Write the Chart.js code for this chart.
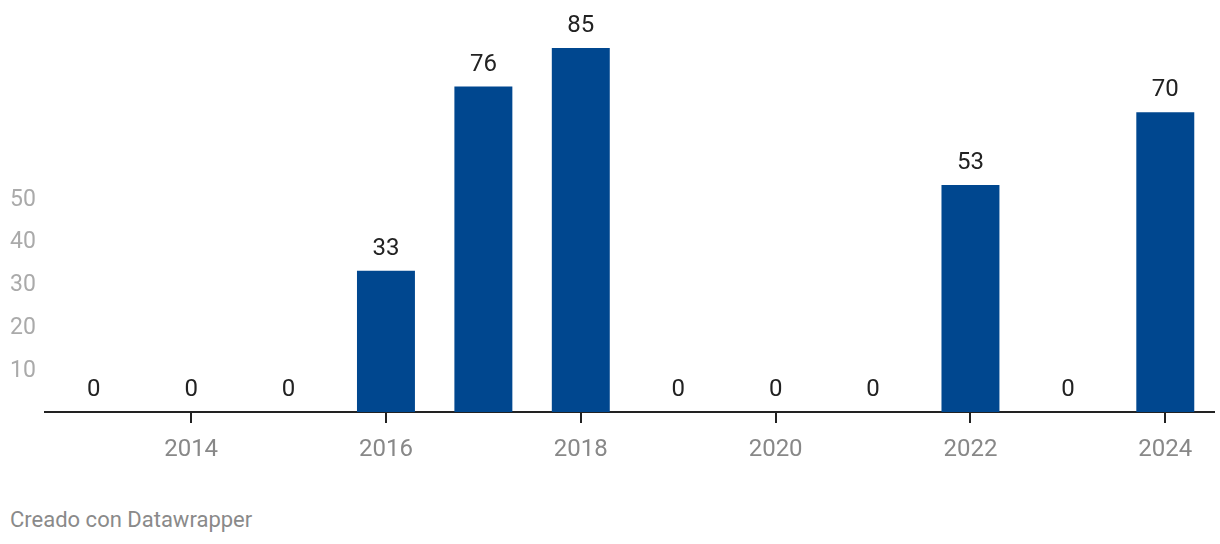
<!DOCTYPE html>
<html>
<head>
<meta charset="utf-8">
<script src="https://cdn.jsdelivr.net/npm/chart.js@4"></script>
<style>
  body { margin: 0; background: #fff; font-family: Roboto, sans-serif; }
  #wrap { position: relative; width: 1220px; height: 471px; }
  #credit { position: absolute; left: 10px; top: 507px; font-size: 22px; color: #8a8a8a; }
</style>
</head>
<body>
<div id="wrap"><canvas id="chart"></canvas></div>
<div id="credit">Creado con Datawrapper</div>
<script>
const years = ["2013", "2014", "2015", "2016", "2017", "2018", "2019", "2020", "2021", "2022", "2023", "2024"];
const counts = [0, 0, 0, 33, 76, 85, 0, 0, 0, 53, 0, 70];
const yTicks = [10, 20, 30, 40, 50];

// etiquetas de valor encima de cada barra
const valueLabels = {
  id: "valueLabels",
  afterDatasetsDraw(chart) {
    const ctx = chart.ctx;
    const meta = chart.getDatasetMeta(0);
    ctx.save();
    ctx.font = "24px Roboto";
    ctx.fillStyle = "#222";
    ctx.textAlign = "center";
    ctx.textBaseline = "alphabetic";
    meta.data.forEach((bar, i) => {
      ctx.fillText(String(counts[i]), bar.x, bar.y - 16);
    });
    ctx.restore();
  }
};

new Chart(document.getElementById("chart").getContext("2d"), {
  type: "bar",
  data: {
    labels: years,
    datasets: [{
      data: counts,
      backgroundColor: "#00478f",
      barPercentage: 1,
      categoryPercentage: 0.595
    }]
  },
  options: {
    responsive: true,
    maintainAspectRatio: false,
    animation: false,
    layout: { padding: { left: 10, right: 6, top: 0, bottom: 0 } },
    plugins: { legend: { display: false }, tooltip: { enabled: false } },
    scales: {
      x: {
        grid: {
          offset: false,
          drawOnChartArea: false,
          tickLength: 11,
          lineWidth: 2,
          color: c => (c.index % 2 === 1 ? "#222" : "rgba(0,0,0,0)")
        },
        border: { color: "#222", width: 2 },
        ticks: {
          autoSkip: false,
          maxRotation: 0,
          padding: 13,
          color: "#888",
          font: { family: "Roboto", size: 24 },
          callback: (v, i) => (i % 2 === 1 ? years[i] : "")
        },
        afterFit: s => { s.height = 59; s.paddingLeft = 0; s.paddingRight = 0; }
      },
      y: {
        min: 0,
        max: 96.2,
        grid: { display: false },
        border: { display: false },
        afterBuildTicks: s => { s.ticks = yTicks.map(v => ({ value: v })); },
        ticks: {
          crossAlign: "far",
          labelOffset: 2,
          color: "#aaa",
          font: { family: "Roboto", size: 23 }
        },
        afterFit: s => { s.width = 35; s.paddingTop = 0; s.paddingBottom = 0; }
      }
    }
  },
  plugins: [valueLabels]
});
</script>
</body>
</html>
